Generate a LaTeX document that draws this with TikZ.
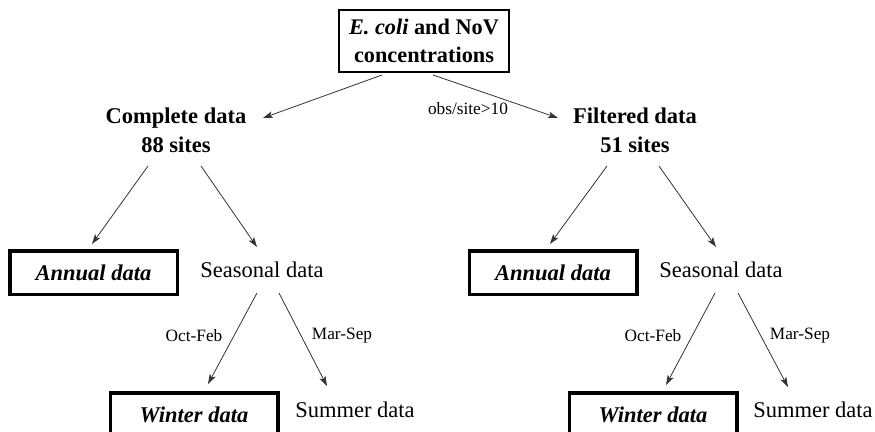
\documentclass[tikz,border=0pt]{standalone}
\usepackage{fontspec}
\setmainfont{Liberation Serif}
\usetikzlibrary{arrows.meta,calc}
\begin{document}
\begin{tikzpicture}[x=1pt,y=-1pt,
  main/.style={inner sep=0pt,font=\fontsize{22.5}{29}\selectfont},
  head/.style={inner sep=0pt,align=center,font=\bfseries\fontsize{22.5}{29}\selectfont},
  lbl/.style={inner sep=0pt,font=\fontsize{17.3}{20}\selectfont},
  topbox/.style={draw,line width=1.6pt,minimum width=170.4pt,minimum height=62.4pt,align=center,inner sep=0pt,font=\bfseries\fontsize{22.3}{28}\selectfont},
  result/.style={draw,line width=3.5pt,minimum width=167.5pt,minimum height=43.5pt,inner sep=0pt,font=\bfseries\itshape\fontsize{22.5}{27}\selectfont},
  arr/.style={draw=black!80,line width=0.8pt,-{Stealth[length=10pt,width=6.5pt,inset=2.5pt]}}
]
\useasboundingbox (0,0) rectangle (875,431);
\clip (0,0) rectangle (875,431);

% nodes
\node[topbox] (top) at (424,41) {\textit{E. coli} and NoV\\concentrations};
\node[head] (cd) at (176,130) {Complete data\\88 sites};
\node[head] (fd) at (635,130) {Filtered data\\51 sites};
\node[lbl] (obs) at (468,109) {obs/site>10};

\node[result] (an1) at (93.5,272.5) {Annual data};
\node[main] (sd1) at (262,270) {Seasonal data};
\node[result] (an2) at (553,272.5) {Annual data};
\node[main] (sd2) at (721,270) {Seasonal data};

\node[lbl] (of1) at (194,336) {Oct-Feb};
\node[lbl] (ms1) at (342,336) {Mar-Sep};
\node[lbl] (of2) at (653,336) {Oct-Feb};
\node[lbl] (ms2) at (800,336) {Mar-Sep};

\node[result] (wn1) at (194,414.5) {Winter data};
\node[main] (su1) at (355,410) {Summer data};
\node[result] (wn2) at (653,414.5) {Winter data};
\node[main] (su2) at (813,410) {Summer data};

% connectors
\draw[arr] ($(top.south)+(-42,2)$) -- ($(cd.center)+(87,-12)$);
\draw[arr] ($(top.south)+(9,2)$) -- ($(fd.center)+(-77,-12)$);

\draw[arr] ($(cd.center)+(-28,36)$) -- ($(an1.north)+(-1.5,-5)$);
\draw[arr] ($(cd.center)+(25,36)$) -- ($(sd1.center)+(-5,-23)$);
\draw[arr] ($(fd.center)+(-28,36)$) -- ($(an2.north)+(-3,-5)$);
\draw[arr] ($(fd.center)+(24,36)$) -- ($(sd2.center)+(-5,-23)$);

\draw[arr] ($(sd1.center)+(-5,23)$) -- ($(wn1.north)+(14,-7)$);
\draw[arr] ($(sd1.center)+(17,23)$) -- ($(su1.center)+(-28,-24)$);
\draw[arr] ($(sd2.center)+(-6,23)$) -- ($(wn2.north)+(13,-6)$);
\draw[arr] ($(sd2.center)+(17,23)$) -- ($(su2.center)+(-25,-23)$);
\end{tikzpicture}
\end{document}
